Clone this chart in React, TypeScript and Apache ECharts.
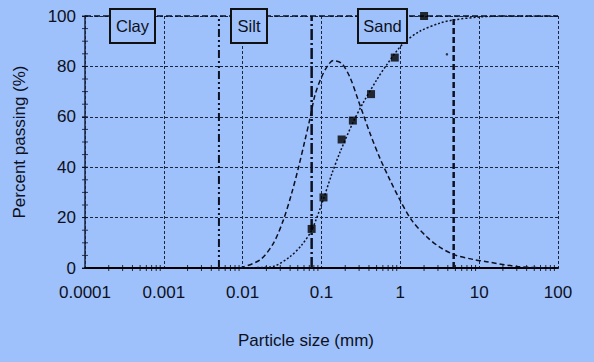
import React, { useEffect, useRef } from 'react';
import * as echarts from 'echarts';

const xTickLabels = ['0.0001', '0.001', '0.01', '0.1', '1', '10', '100'];
const decades = [0.0001, 0.001, 0.01, 0.1, 1, 10];
const minorMultipliers = [2, 3, 4, 5, 6, 7, 8, 9];
const yMinorTicks = [0, 5, 10, 15, 20, 25, 30, 35, 40, 45, 50, 55, 60, 65, 70, 75, 80, 85, 90, 95, 100];

// Sieve test results
const sieveSizes = [0.075, 0.106, 0.18, 0.25, 0.425, 0.85, 2.0];
const percentPassing = [15.5, 28, 51, 58.5, 69, 83.5, 100];
const strayDotSize = [3.9];
const strayDotValue = [84.8];

// Fitted cumulative (dotted) curve
const fitSizes = [0.0095, 0.0166, 0.0245, 0.0399, 0.0561, 0.075, 0.105, 0.134, 0.172, 0.253, 0.337, 0.498, 0.667, 1.08, 1.78, 3.19, 4.9, 10, 20, 100];
const fitPassing = [0, 0.2, 0.6, 4.5, 9.1, 15, 27, 37, 46, 58, 65.5, 74.5, 80.5, 89, 94, 97.2, 98.5, 99.6, 100, 100];

// Frequency (dashed) curve
const freqSizes = [0.0093, 0.0166, 0.0245, 0.0328, 0.0418, 0.0508, 0.0618, 0.0715, 0.0828, 0.1005, 0.122, 0.141, 0.18, 0.23, 0.293, 0.412, 0.552, 0.74, 0.99, 1.39, 2.16, 3.19, 4.9, 8.43, 12.4, 32, 100];
const freqValues = [0, 3.2, 9.8, 19, 29.6, 39.6, 50.8, 59.4, 68.7, 75.9, 80.6, 82.3, 81.2, 75.6, 66.5, 53.5, 43.5, 34.9, 27, 19, 12.4, 8.2, 5.2, 3.4, 2.5, 0.5, 0];

// Soil class boundaries (mm)
const boundarySizes = [0.005, 0.075, 4.75];
const boundaryRange = [0, 100];
const soilClasses = ['Clay', 'Silt', 'Sand'];

const BG = '#9ec0fb';
const INK = '#0d1020';
const FONT = '"Liberation Sans", Arial, sans-serif';

export default function App() {
  const ref = useRef<HTMLDivElement>(null);
  useEffect(() => {
    document.body.style.margin = '0';
    document.body.style.background = BG;
    const chart = echarts.init(ref.current!, null, { renderer: 'svg' });

    const xMinor: number[][] = [];
    decades.forEach((d) => minorMultipliers.forEach((m) => xMinor.push([d * m, 0])));

    const boundaryStyles = [
      { type: [8, 3, 2, 3, 2, 3], width: 2 },
      { type: [11, 3, 2, 3], width: 2.5 },
      { type: [6, 3], width: 2.5 },
    ];

    const boxes = [
      { x: 110, w: 45 },
      { x: 231, w: 36 },
      { x: 358, w: 49 },
    ];

    const option: any = {
      animation: false,
      backgroundColor: BG,
      grid: { left: 85, right: 36, top: 16, bottom: 94 },
      xAxis: {
        type: 'log',
        logBase: 10,
        min: 0.0001,
        max: 100,
        splitNumber: 6,
        axisLine: { show: true, onZero: false, lineStyle: { color: '#000', width: 2 } },
        axisTick: { show: false },
        axisLabel: {
          fontSize: 17,
          fontFamily: FONT,
          color: INK,
          margin: 16,
          formatter: (v: number) => xTickLabels[Math.round(Math.log10(v)) + 4] ?? '',
        },
        splitLine: { show: true, lineStyle: { color: '#1a2540', type: [3, 2], width: 1 } },
      },
      yAxis: {
        type: 'value',
        min: 0,
        max: 100,
        interval: 20,
        axisLine: { show: true, lineStyle: { color: '#1a2540', width: 1.5 } },
        axisTick: { show: true, length: 3, lineStyle: { color: INK } },
        axisLabel: { fontSize: 17, fontFamily: FONT, color: INK, margin: 9 },
        splitLine: { show: true, lineStyle: { color: '#1a2540', type: [3, 2], width: 1 } },
        name: 'Percent passing (%)',
        nameLocation: 'middle',
        nameGap: 57,
        nameTextStyle: { fontSize: 17, fontFamily: FONT, color: INK },
      },
      graphic: [
        ...soilClasses.flatMap((label, i) => [
          {
            type: 'rect',
            z: 100,
            shape: { x: boxes[i].x, y: 9, width: boxes[i].w, height: 34 },
            style: { fill: BG, stroke: '#111', lineWidth: 2 },
          },
          {
            type: 'text',
            z: 101,
            x: boxes[i].x + boxes[i].w / 2,
            y: 26,
            style: {
              text: label,
              fontSize: 16.5,
              fontFamily: FONT,
              fill: INK,
              align: 'center',
              verticalAlign: 'middle',
            },
          },
        ]),
        {
          type: 'text',
          x: 306,
          y: 340,
          z: 100,
          style: {
            text: 'Particle size (mm)',
            fontSize: 17,
            fontFamily: FONT,
            fill: INK,
            align: 'center',
            verticalAlign: 'middle',
          },
        },
      ],
      series: [
        ...boundarySizes.map((b, i) => ({
          type: 'line',
          data: boundaryRange.map((y) => [b, y]),
          showSymbol: false,
          silent: true,
          lineStyle: { color: INK, ...boundaryStyles[i] },
          z: 4,
        })),
        {
          type: 'line',
          data: fitSizes.map((x, i) => [x, fitPassing[i]]),
          showSymbol: false,
          smooth: 0.3,
          lineStyle: { type: [2, 2], width: 1.5, color: INK },
          z: 3,
        },
        {
          type: 'line',
          data: freqSizes.map((x, i) => [x, freqValues[i]]),
          showSymbol: false,
          smooth: 0.3,
          lineStyle: { type: [5, 3], width: 1.5, color: INK },
          z: 3,
        },
        {
          type: 'scatter',
          data: sieveSizes.map((x, i) => [x, percentPassing[i]]),
          symbol: 'rect',
          symbolSize: 8,
          itemStyle: { color: '#000' },
          z: 5,
          markLine: {
            silent: true,
            symbol: ['none', 'none'],
            label: { show: false },
            data: [{ yAxis: 100, lineStyle: { color: INK, type: [6, 3], width: 1.5 } }],
          },
        },
        {
          type: 'scatter',
          data: strayDotSize.map((x, i) => [x, strayDotValue[i]]),
          symbol: 'circle',
          symbolSize: 2.5,
          itemStyle: { color: INK },
        },
        {
          type: 'scatter',
          data: xMinor,
          symbol: 'rect',
          symbolSize: [1, 6],
          itemStyle: { color: '#000' },
          clip: false,
          silent: true,
        },
        {
          type: 'scatter',
          data: yMinorTicks.map((v) => [0.0001, v]),
          symbol: 'rect',
          symbolSize: [6, 1],
          itemStyle: { color: INK },
          clip: false,
          silent: true,
        },
      ],
    };
    chart.setOption(option);
    return () => chart.dispose();
  }, []);
  return <div ref={ref} style={{ width: 594, height: 362 }} />;
}
